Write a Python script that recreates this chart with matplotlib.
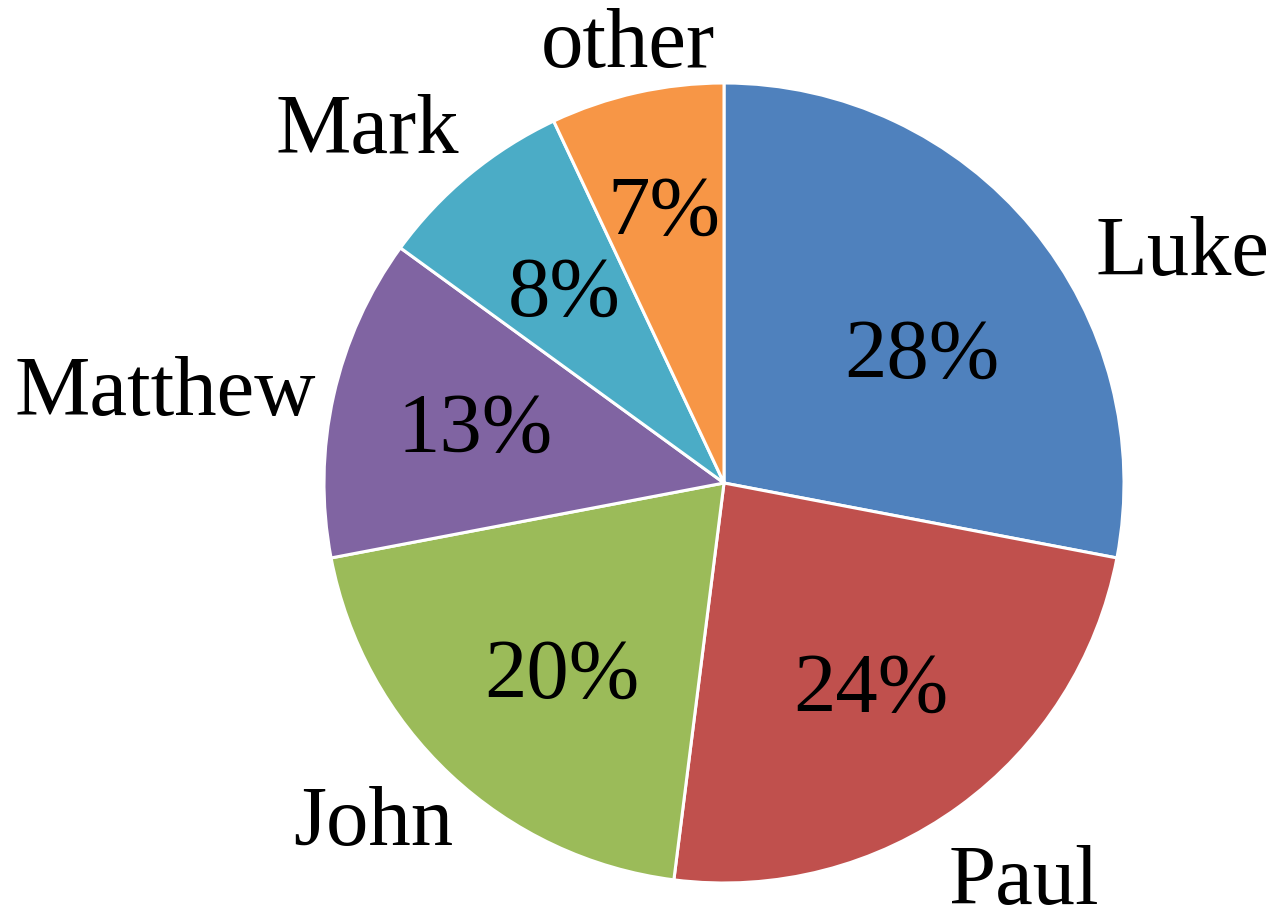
import matplotlib
matplotlib.use("Agg")
import matplotlib.pyplot as plt

# data
names = ["Luke", "Paul", "John", "Matthew", "Mark", "other"]
shares = [28, 24, 20, 13, 8, 7]
colors = ["#4F81BD", "#C0504D", "#9BBB59", "#8064A2", "#4BACC6", "#F79646"]

# label placement (unit-radius coords, text centre x / baseline y)
name_pos = [(1.1475, 0.52), (0.75, -1.0525), (-0.8775, -0.905),
            (-1.3975, 0.17), (-0.8925, 0.825), (-0.24, 1.04)]
pct_pos = [(0.494, 0.2625), (0.3675, -0.5725), (-0.406, -0.5375),
           (-0.6225, 0.0775), (-0.40, 0.4175), (-0.15, 0.62)]

plt.rcParams['font.family'] = ['Liberation Serif', 'DejaVu Serif']

fig = plt.figure(figsize=(12.76, 9.15), dpi=100)
ax = fig.add_axes([(724 - 400) / 1276, (915 - 883) / 915, 800 / 1276, 800 / 915])

wedges, texts, autotexts = ax.pie(
    shares, labels=names, colors=colors, startangle=90, counterclock=False,
    autopct="%d%%", wedgeprops=dict(edgecolor="white", linewidth=2.2),
    textprops=dict(fontsize=61, color="black"))

for t, p in zip(texts, name_pos):
    t.set_position(p)
    t.set_ha("center")
    t.set_va("baseline")
for t, p in zip(autotexts, pct_pos):
    t.set_position(p)
    t.set_ha("center")
    t.set_va("baseline")

ax.set_xlim(-1, 1)
ax.set_ylim(-1, 1)
ax.set_aspect("equal")

fig.savefig("out.png", dpi=100, facecolor="white")
